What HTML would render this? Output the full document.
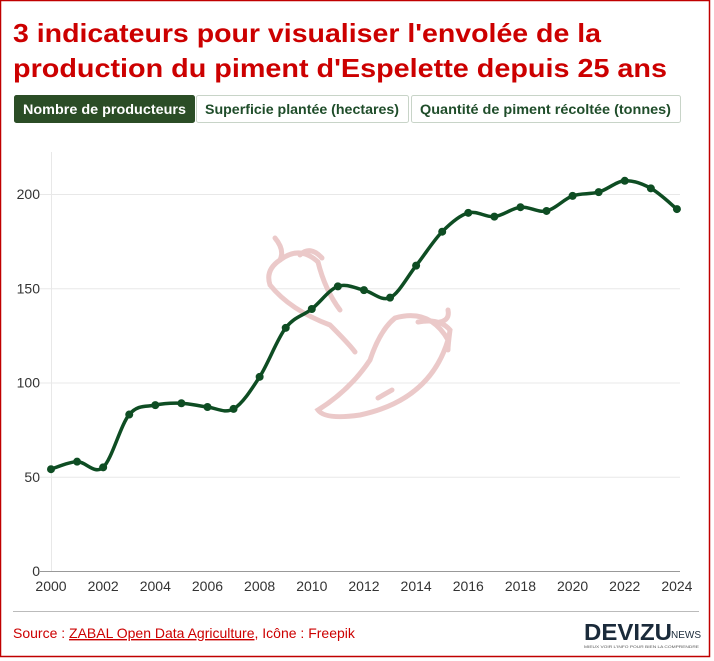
<!DOCTYPE html>
<html><head><meta charset="utf-8"><style>
html,body{margin:0;padding:0;background:#fff;}
svg{display:block;font-family:"Liberation Sans",sans-serif;}
</style></head><body>
<svg id="s" width="714" height="661" viewBox="0 0 714 661">
<rect x="0.5" y="0.5" width="709" height="656" fill="#fff" stroke="#c00000" stroke-width="1.5"/>
<text x="13" y="42" font-size="26" font-weight="bold" fill="#cc0000" textLength="588" lengthAdjust="spacingAndGlyphs">3 indicateurs pour visualiser l'envolée de la</text>
<text x="13" y="77" font-size="26" font-weight="bold" fill="#cc0000" textLength="654" lengthAdjust="spacingAndGlyphs">production du piment d'Espelette depuis 25 ans</text>
<rect x="14.5" y="95.5" width="180" height="27" rx="2" fill="#2b4d26" stroke="#2b4d26"/>
<text x="23" y="114" font-size="14" font-weight="bold" fill="#fff" textLength="163" lengthAdjust="spacingAndGlyphs">Nombre de producteurs</text>
<rect x="196.5" y="95.5" width="212" height="27" rx="2" fill="#fff" stroke="#c8d4c8"/>
<text x="205" y="114" font-size="14" font-weight="bold" fill="#1f4d2a" textLength="194" lengthAdjust="spacingAndGlyphs">Superficie plantée (hectares)</text>
<rect x="411.5" y="95.5" width="269" height="27" rx="2" fill="#fff" stroke="#c8d4c8"/>
<text x="420" y="114" font-size="14" font-weight="bold" fill="#1f4d2a" textLength="251" lengthAdjust="spacingAndGlyphs">Quantité de piment récoltée (tonnes)</text>
<g id="grid" stroke="#e8e8e8" stroke-width="1"></g>
<g fill="none" stroke="#e9c4c4" stroke-width="5" stroke-linecap="round" opacity="0.9">
<path d="M275 238 Q285 250 280 260 Q265 270 270 285 Q290 310 330 325 Q350 345 355 352"/>
<path d="M280 260 Q300 245 318 262 Q325 290 340 310"/>
<path d="M300 255 Q310 245 322 258"/>
<path d="M395 318 Q430 308 448 340 Q430 400 360 415 Q325 420 318 410 Q350 390 370 360 Q380 330 395 318"/>
<path d="M418 322 Q440 318 450 330 Q448 345 448 350"/>
<path d="M448 310 Q450 320 440 322"/>
<path d="M378 398 L392 390"/>
</g>
<g id="ax" font-size="14" fill="#333"></g>
<path id="ln" fill="none" stroke="#0e4d23" stroke-width="3.5"/>
<g id="dots" fill="#0e4d23"></g>
<line x1="13" y1="611.5" x2="699" y2="611.5" stroke="#bbb"/>
<text x="13" y="638" font-size="14" fill="#cc0000">Source : <tspan text-decoration="underline">ZABAL Open Data Agriculture</tspan>, Icône : Freepik</text>
<text x="584" y="640" font-size="23" font-weight="bold" fill="#1a2a3a" textLength="88" lengthAdjust="spacingAndGlyphs">DEVIZU</text>
<text x="671" y="638" font-size="10" fill="#1a2a3a">NEWS</text>
<text x="584" y="648" font-size="4" fill="#555" textLength="115" lengthAdjust="spacingAndGlyphs">MIEUX VOIR L'INFO POUR BIEN LA COMPRENDRE</text>
</svg>
<script>
var v=[54,58,55,83,88,89,87,86,103,129,139,151,149,145,162,180,190,188,193,191,199,201,207,203,192];
function X(i){return 51+i*26.08}function Y(a){return 571-a*1.885}
var g=document.getElementById('grid'),ax=document.getElementById('ax'),ns='http://www.w3.org/2000/svg';
function el(p,t,a,txt){var e=document.createElementNS(ns,t);for(var k in a)e.setAttribute(k,a[k]);if(txt!==undefined)e.textContent=String(txt);p.appendChild(e);return e}
[0,50,100,150,200].forEach(function(a){var y=Y(a);el(g,'line',{x1:40,x2:680,y1:y+0.5,y2:y+0.5,stroke:a==0?'#999':'#e8e8e8'});el(ax,'text',{x:40,y:y+5,'text-anchor':'end'},a)});
el(g,'line',{x1:51.5,x2:51.5,y1:152,y2:571,stroke:'#e8e8e8'});
for(var yr=2000;yr<=2024;yr+=2){el(ax,'text',{x:X(yr-2000),y:591,'text-anchor':'middle'},yr)}
var P=v.map(function(a,i){return[X(i),Y(a)]});
var d='M'+P[0][0]+' '+P[0][1];
for(var i=0;i<P.length-1;i++){var p0=P[i-1]||P[i],p1=P[i],p2=P[i+1],p3=P[i+2]||p2;
d+=' C'+(p1[0]+(p2[0]-p0[0])/6)+' '+(p1[1]+(p2[1]-p0[1])/6)+' '+(p2[0]-(p3[0]-p1[0])/6)+' '+(p2[1]-(p3[1]-p1[1])/6)+' '+p2[0]+' '+p2[1];}
document.getElementById('ln').setAttribute('d',d);
var dt=document.getElementById('dots');P.forEach(function(p){el(dt,'circle',{cx:p[0],cy:p[1],r:4})});
</script>
</body></html>
